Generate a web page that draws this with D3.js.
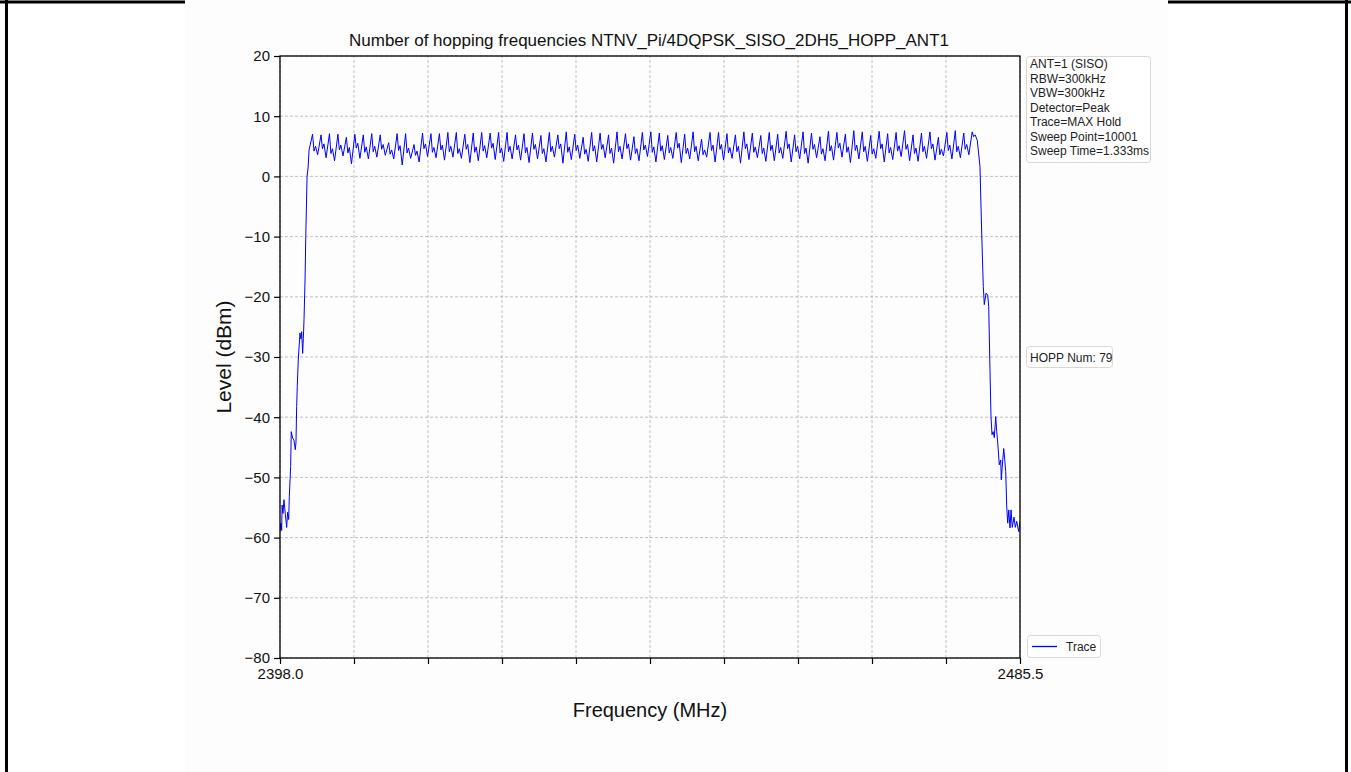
<!DOCTYPE html>
<html><head><meta charset="utf-8">
<script src="https://cdn.jsdelivr.net/npm/d3@7"></script>
<style>
body{margin:0;background:#fff;}
svg{display:block;font-family:"Liberation Sans",Arial,Helvetica,sans-serif;}
</style>
</head><body>
<svg id="c" width="1351" height="772"></svg>
<script>
const chartTitle = "Number of hopping frequencies NTNV_Pi/4DQPSK_SISO_2DH5_HOPP_ANT1";
const xLabel = "Frequency (MHz)";
const yLabel = "Level (dBm)";
const xDomain = [2398.0, 2485.5];
const yDomain = [-80, 20];
const yTicks = [20, 10, 0, -10, -20, -30, -40, -50, -60, -70, -80];
const xTicks = [2398.0, 2406.75, 2415.5, 2424.25, 2433.0, 2441.75, 2450.5, 2459.25, 2468.0, 2476.75, 2485.5];
const xTickLabels = ["2398.0", "", "", "", "", "", "", "", "", "", "2485.5"];

const leftEdgeFreq = [2398.00, 2398.10, 2398.20, 2398.25, 2398.35, 2398.47, 2398.62, 2398.79, 2398.90, 2399.03, 2399.10, 2399.26, 2399.33, 2399.50, 2399.65, 2399.81, 2399.89, 2399.97, 2400.04, 2400.16, 2400.36, 2400.48, 2400.56, 2400.68, 2400.76, 2400.84, 2400.96, 2401.05, 2401.20, 2401.32, 2401.44];
const leftEdgeLevel = [-59.0, -57.6, -58.8, -54.6, -56.0, -53.7, -56.0, -58.3, -55.8, -57.0, -53.2, -48.2, -42.4, -43.5, -43.8, -45.4, -44.2, -38.2, -34.9, -30.5, -26.0, -27.0, -25.8, -29.4, -26.9, -23.8, -17.2, -10.0, 0.0, 1.4, 4.4];

const channelFreq = [2402, 2403, 2404, 2405, 2406, 2407, 2408, 2409, 2410, 2411, 2412, 2413, 2414, 2415, 2416, 2417, 2418, 2419, 2420, 2421, 2422, 2423, 2424, 2425, 2426, 2427, 2428, 2429, 2430, 2431, 2432, 2433, 2434, 2435, 2436, 2437, 2438, 2439, 2440, 2441, 2442, 2443, 2444, 2445, 2446, 2447, 2448, 2449, 2450, 2451, 2452, 2453, 2454, 2455, 2456, 2457, 2458, 2459, 2460, 2461, 2462, 2463, 2464, 2465, 2466, 2467, 2468, 2469, 2470, 2471, 2472, 2473, 2474, 2475, 2476, 2477, 2478, 2479, 2480];
const channelPeak = [7.0, 6.9, 7.1, 7.0, 6.5, 7.0, 6.9, 7.1, 6.9, 5.6, 7.1, 7.1, 5.3, 7.2, 7.1, 7.1, 7.3, 7.3, 7.0, 7.2, 7.3, 7.2, 7.3, 7.3, 6.9, 7.1,
  7.2, 6.8, 7.3, 6.9, 7.4, 7.0, 6.5, 7.3, 7.2, 6.9, 7.4, 7.1, 6.6, 7.3, 7.4, 7.2, 6.8, 7.3, 7.0, 7.4, 6.2, 7.3, 7.3, 7.1, 6.9, 7.4, 7.2, 6.8,
  7.3, 7.0, 7.5, 6.9, 7.4, 7.2, 6.6, 7.5, 7.3, 7.0, 7.6, 7.4, 6.8, 7.5, 7.1, 7.3, 7.6, 6.9, 7.2, 7.4, 6.5, 7.3, 7.6, 7.2, 7.4];
const channelMid = [4.2, 4.6, 3.8, 4.4, 3.9, 4.7, 4.0, 4.1, 4.5, 3.7, 4.3, 3.9, 3.5, 4.6, 4.0, 4.4, 4.1, 3.8, 4.5, 4.0, 4.2, 4.7, 3.9, 4.1, 4.4, 3.9,
  4.5, 3.8, 4.1, 4.6, 4.0, 4.3, 3.7, 4.2, 4.5, 3.8, 4.1, 4.6, 3.8, 4.4, 4.0, 4.2, 3.9, 4.7, 3.8, 4.1, 3.6, 4.3, 4.5, 3.9, 4.1, 4.6, 4.0, 3.8,
  4.3, 3.9, 4.6, 4.1, 3.8, 4.5, 3.7, 4.2, 4.7, 4.0, 4.3, 4.1, 3.7, 4.6, 3.9, 4.2, 4.5, 3.8, 4.1, 4.6, 3.6, 4.3, 4.1, 4.5, 6.6];
const channelShoulder = [5.0, 5.4, 4.6, 5.2, 4.8, 5.5, 4.9, 5.0, 5.3, 4.4, 5.1, 4.7, 4.2, 5.4, 4.8, 5.2, 5.0, 4.6, 5.3, 4.9, 5.1, 5.5, 4.7, 5.0, 5.2, 4.8,
  5.3, 4.6, 5.0, 5.4, 4.9, 5.2, 4.5, 5.1, 5.3, 4.7, 5.0, 5.4, 4.6, 5.2, 4.9, 5.1, 4.8, 5.5, 4.7, 5.0, 4.4, 5.2, 5.3, 4.8, 5.0, 5.4, 4.9, 4.7,
  5.2, 4.8, 5.4, 5.0, 4.7, 5.3, 4.6, 5.1, 5.5, 4.9, 5.2, 5.0, 4.6, 5.4, 4.8, 5.1, 5.3, 4.7, 5.0, 5.4, 4.5, 5.2, 5.0, 5.3, 6.9];
const channelDip = [3.6, 3.1, 2.6, 3.4, 2.1, 3.0, 2.9, 3.2, 3.5, 2.9, 1.9, 3.0, 2.4, 3.3, 3.1, 2.7, 3.2, 3.0, 2.3, 2.6, 3.1, 2.8, 2.5, 2.9, 2.7, 2.3,
  2.9, 2.4, 3.2, 2.2, 2.8, 3.0, 2.5, 2.4, 3.1, 2.2, 2.9, 2.7, 2.6, 3.3, 2.4, 2.8, 3.0, 2.3, 2.9, 2.6, 3.2, 2.4, 2.7, 3.0, 2.2, 2.8, 3.1, 2.5,
  2.6, 3.0, 2.4, 2.9, 2.2, 3.1, 2.6, 2.7, 3.2, 2.3, 2.9, 2.5, 3.0, 2.4, 2.8, 3.3, 2.6, 2.5, 3.0, 2.7, 3.4, 2.9, 3.1, 3.6, 6.0];

const rightEdgeFreq = [2480.77, 2480.97, 2481.16, 2481.28, 2481.48, 2481.68, 2481.80, 2481.95, 2482.07, 2482.19, 2482.34, 2482.46, 2482.63, 2482.75, 2482.87, 2483.05, 2483.22, 2483.29, 2483.46, 2483.58, 2483.70, 2483.81, 2483.93, 2484.05, 2484.17, 2484.32, 2484.44, 2484.59, 2484.79, 2484.95, 2485.11, 2485.35, 2485.50];
const rightEdgeLevel = [1.6, -9.4, -18.3, -21.3, -19.4, -19.7, -21.6, -32.1, -39.9, -42.9, -42.4, -43.4, -39.9, -42.4, -44.3, -47.9, -47.1, -50.4, -47.1, -45.2, -47.1, -49.0, -54.9, -57.6, -55.4, -58.4, -55.4, -58.3, -56.6, -58.3, -57.3, -59.0, -57.3];

const infoLines = ["ANT=1 (SISO)", "RBW=300kHz", "VBW=300kHz", "Detector=Peak", "Trace=MAX Hold", "Sweep Point=10001", "Sweep Time=1.333ms"];
const hoppLabel = "HOPP Num: 79";
const legendLabel = "Trace";

// ---------- build trace ----------
const trace = [];
leftEdgeFreq.forEach((f, i) => trace.push([f, leftEdgeLevel[i]]));
channelFreq.forEach((f, i) => {
  trace.push([f - 0.15, channelPeak[i]]);
  trace.push([f + 0.02, channelMid[i]]);
  trace.push([f + 0.2, channelShoulder[i]]);
  trace.push([f + 0.45, channelDip[i]]);
});
rightEdgeFreq.forEach((f, i) => trace.push([f, rightEdgeLevel[i]]));

const svg = d3.select("#c");
const W = 1351, H = 772;

// page frame
svg.append("rect").attr("x", 0).attr("y", 0).attr("width", W).attr("height", H).attr("fill", "#ffffff");
svg.append("rect").attr("x", 185).attr("y", 0).attr("width", 983).attr("height", H).attr("fill", "#fdfdfd");
const frame = svg.append("g").attr("stroke", "#000").attr("stroke-width", 3).attr("fill", "none");
frame.append("line").attr("x1", 0).attr("x2", 185).attr("y1", 2).attr("y2", 2);
frame.append("line").attr("x1", 1168).attr("x2", W).attr("y1", 2).attr("y2", 2);
frame.append("line").attr("x1", 6.5).attr("x2", 6.5).attr("y1", 0).attr("y2", H);
frame.append("line").attr("x1", 1346.5).attr("x2", 1346.5).attr("y1", 0).attr("y2", H);

const x = d3.scaleLinear().domain(xDomain).range([280, 1020]);
const y = d3.scaleLinear().domain(yDomain).range([658, 56]);

// grid
const grid = svg.append("g").attr("stroke", "#b0b0b0").attr("stroke-width", 0.8).attr("stroke-dasharray", "3,2");
grid.selectAll("line.gx").data(xTicks).join("line")
  .attr("x1", d => x(d)).attr("x2", d => x(d)).attr("y1", y(yDomain[0])).attr("y2", y(yDomain[1]));
grid.selectAll("line.gy").data(yTicks).join("line").attr("class", "gy")
  .attr("x1", x(xDomain[0])).attr("x2", x(xDomain[1])).attr("y1", d => y(d)).attr("y2", d => y(d));

// trace
const clipId = "plotclip";
svg.append("clipPath").attr("id", clipId).append("rect")
  .attr("x", 280).attr("y", 56).attr("width", 740).attr("height", 602);
svg.append("path").datum(trace)
  .attr("clip-path", `url(#${clipId})`)
  .attr("fill", "none").attr("stroke", "#0000ff").attr("stroke-width", 1)
  .attr("stroke-linejoin", "round")
  .attr("d", d3.line().x(d => x(d[0])).y(d => y(d[1])));

// axes
const xAxis = d3.axisBottom(x).tickValues(xTicks).tickSize(6).tickPadding(4)
  .tickFormat((d, i) => xTickLabels[i]);
const yAxis = d3.axisLeft(y).tickValues(yTicks).tickSize(6).tickPadding(4)
  .tickFormat(d => d < 0 ? "\u2212" + Math.abs(d) : String(d));
const gx = svg.append("g").attr("transform", `translate(0,${y(yDomain[0])})`).call(xAxis);
const gy = svg.append("g").attr("transform", `translate(${x(xDomain[0])},0)`).call(yAxis);
[gx, gy].forEach(g => {
  g.select(".domain").remove();
  g.selectAll(".tick line").attr("stroke", "#000").attr("stroke-width", 1.2);
  g.selectAll(".tick text").attr("fill", "#111").style("font-size", "15px").style("font-family", "'Liberation Sans',Arial,sans-serif");
});
// spines
svg.append("rect").attr("x", x(xDomain[0])).attr("y", y(yDomain[1]))
  .attr("width", x(xDomain[1]) - x(xDomain[0])).attr("height", y(yDomain[0]) - y(yDomain[1]))
  .attr("fill", "none").attr("stroke", "#000").attr("stroke-width", 1.3);

// title & labels
svg.append("text").attr("x", 649).attr("y", 46).attr("text-anchor", "middle")
  .style("font-size", "17px").attr("fill", "#111").text(chartTitle);
svg.append("text").attr("x", 650).attr("y", 717).attr("text-anchor", "middle")
  .style("font-size", "20px").attr("fill", "#111").text(xLabel);
svg.append("text").attr("transform", "translate(231,357) rotate(-90)").attr("text-anchor", "middle")
  .style("font-size", "21px").attr("fill", "#111").text(yLabel);

// info box
const info = svg.append("g").attr("transform", "translate(1026,56)");
info.append("rect").attr("x", 0.5).attr("y", 0.5).attr("width", 124).attr("height", 106).attr("rx", 3)
  .attr("fill", "#fff").attr("stroke", "#d8d8d8");
info.selectAll("text").data(infoLines).join("text")
  .attr("x", 4).attr("y", (d, i) => 12 + i * 14.5)
  .style("font-size", "12px").attr("fill", "#222").text(d => d);

// hopp box
const hopp = svg.append("g").attr("transform", "translate(1026,346)");
hopp.append("rect").attr("x", 0.5).attr("y", 0.5).attr("width", 86).attr("height", 21).attr("rx", 3)
  .attr("fill", "#fff").attr("stroke", "#d8d8d8");
hopp.append("text").attr("x", 4).attr("y", 15.5).style("font-size", "12px").attr("fill", "#222").text(hoppLabel);

// legend
const leg = svg.append("g").attr("transform", "translate(1027,635)");
leg.append("rect").attr("x", 0.5).attr("y", 0.5).attr("width", 73).attr("height", 22).attr("rx", 3)
  .attr("fill", "#fff").attr("stroke", "#d8d8d8");
leg.append("line").attr("x1", 5).attr("x2", 30).attr("y1", 11.5).attr("y2", 11.5)
  .attr("stroke", "#0000ff").attr("stroke-width", 1.3);
leg.append("text").attr("x", 39).attr("y", 16).style("font-size", "12px").attr("fill", "#222").text(legendLabel);
</script>
</body></html>
